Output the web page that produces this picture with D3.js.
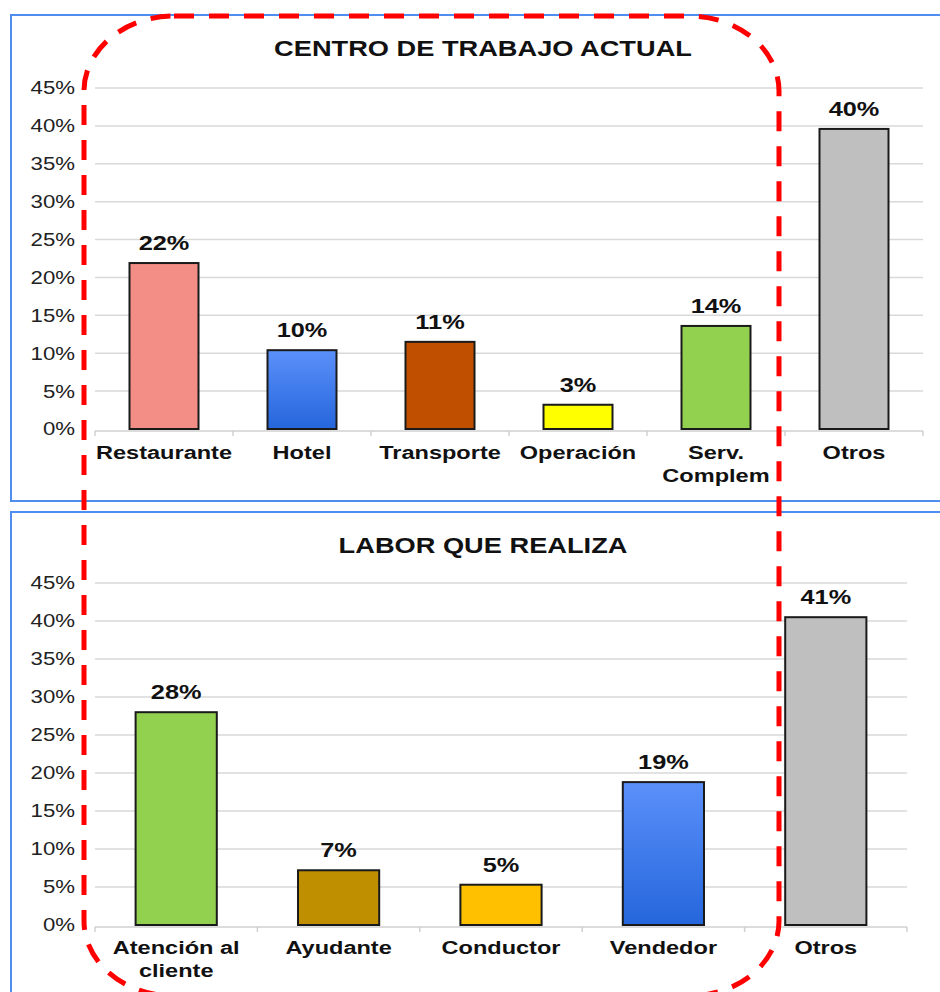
<!DOCTYPE html>
<html><head><meta charset="utf-8">
<script src="https://cdn.jsdelivr.net/npm/d3@7"></script>
<style>
html,body{margin:0;padding:0;background:#fff;}
svg{display:block;font-family:"Liberation Sans",Arial,sans-serif;}
</style></head>
<body>
<svg id="chart" width="940" height="992"></svg>
<script>
// ---- data ----
const topTitle = "CENTRO DE TRABAJO ACTUAL";
const topCategories = ["Restaurante","Hotel","Transporte","Operación","Serv.|Complem","Otros"];
const topValues = [21.9, 10.4, 11.5, 3.2, 13.6, 39.6];
const topLabels = ["22%","10%","11%","3%","14%","40%"];
const topColors = ["#f28e86","url(#blueGrad)","#c05000","#ffff00","#92d050","#bfbfbf"];

const botTitle = "LABOR QUE REALIZA";
const botCategories = ["Atención al|cliente","Ayudante","Conductor","Vendedor","Otros"];
const botValues = [28.0, 7.2, 5.3, 18.8, 40.5];
const botLabels = ["28%","7%","5%","19%","41%"];
const botColors = ["#92d050","#bf8f00","#ffc000","url(#blueGrad)","#bfbfbf"];

const yTicks = [0,5,10,15,20,25,30,35,40,45];

const SX = 1.2; // horizontal stretch of the original text
const svg = d3.select("#chart");
const defs = svg.append("defs");
const g = defs.append("linearGradient").attr("id","blueGrad").attr("x1",0).attr("y1",0).attr("x2",0).attr("y2",1);
g.append("stop").attr("offset","0%").attr("stop-color","#5b90fa");
g.append("stop").attr("offset","100%").attr("stop-color","#2566dc");

function stretchedText(parent, x, y, lines, opts){
  const grp = parent.append("g").attr("transform",`translate(${x},${y}) scale(${opts.sx||SX},1)`);
  const t = grp.append("text").attr("text-anchor",opts.anchor||"middle")
    .attr("font-weight",opts.weight||"bold").attr("font-size",opts.size).attr("fill",opts.fill||"#111");
  lines.forEach((p,k)=>{
    t.append("tspan").attr("x",0).attr("dy",k===0?0:(opts.lh||23)).text(p);
  });
  return grp;
}

function panel(cfg){
  const {frameY, frameH, title, titleY, cats, vals, labels, colors, x0, x1, yTop, yBot, catY} = cfg;
  svg.append("rect").attr("x",11).attr("y",frameY).attr("width",960).attr("height",frameH)
    .attr("fill","#fff").attr("stroke","#4f8ef0").attr("stroke-width",2);
  stretchedText(svg, 483, titleY, [title], {size:22.5, sx:1.21});

  const x = d3.scaleBand().domain(cats).range([x0,x1]).paddingInner(0).paddingOuter(0);
  const y = d3.scaleLinear().domain([0,45]).range([yBot,yTop]);

  // gridlines
  svg.append("g").selectAll("line").data(yTicks.filter(t=>t>0)).join("line")
    .attr("x1",x0).attr("x2",x1).attr("y1",d=>y(d)).attr("y2",d=>y(d))
    .attr("stroke","#d9d9d9").attr("stroke-width",1.5);

  // y axis labels
  const ya = svg.append("g").attr("transform",`translate(${x0},0)`)
    .call(d3.axisLeft(y).tickValues(yTicks).tickFormat(d=>d+"%").tickSize(0).tickPadding(20));
  ya.select(".domain").remove();
  ya.selectAll("text").attr("font-size",18.5).attr("fill","#222")
    .attr("font-family","'Liberation Sans',Arial,sans-serif")
    .attr("x",0).attr("transform",`translate(-20,0) scale(${SX},1)`);

  // x axis
  const xa = svg.append("g").attr("transform",`translate(0,${yBot+2})`);
  xa.append("line").attr("x1",x0).attr("x2",x1).attr("y1",0).attr("y2",0).attr("stroke","#d0d0d0").attr("stroke-width",1.5);
  const edges = cats.map(c=>x(c)).concat([x1]);
  xa.selectAll("line.tk").data(edges).join("line").attr("class","tk")
    .attr("x1",d=>d).attr("x2",d=>d).attr("y1",0).attr("y2",5).attr("stroke","#d0d0d0").attr("stroke-width",1.5);

  // bars
  const bw = x.bandwidth()*0.5;
  svg.append("g").selectAll("rect").data(cats).join("rect")
    .attr("x",(d)=>x(d)+x.bandwidth()/2-bw/2)
    .attr("y",(d,i)=>y(vals[i]))
    .attr("width",bw)
    .attr("height",(d,i)=>yBot-y(vals[i]))
    .attr("fill",(d,i)=>colors[i])
    .attr("stroke","#1a1a1a").attr("stroke-width",2);

  // value labels
  const vl = svg.append("g");
  cats.forEach((d,i)=>{
    stretchedText(vl, x(d)+x.bandwidth()/2, y(vals[i])-13, [labels[i]], {size:19.5, sx:1.3});
  });

  // category labels
  const cl = svg.append("g");
  cats.forEach(d=>{
    stretchedText(cl, x(d)+x.bandwidth()/2, catY, d.split("|"), {size:19, sx:1.24, lh:23});
  });
}

panel({frameY:15, frameH:486, title:topTitle, titleY:56, cats:topCategories, vals:topValues,
  labels:topLabels, colors:topColors, x0:95, x1:923, yTop:88, yBot:429, catY:459});
panel({frameY:512, frameH:520, title:botTitle, titleY:553, cats:botCategories, vals:botValues,
  labels:botLabels, colors:botColors, x0:95, x1:907, yTop:583, yBot:925, catY:954});

// red dashed highlight
svg.append("rect").attr("x",84).attr("y",16).attr("width",695).attr("height",980)
  .attr("rx",90).attr("ry",75)
  .attr("fill","none").attr("stroke","#ff0000").attr("stroke-width",5)
  .attr("stroke-dasharray","20,15");
</script>
</body></html>
